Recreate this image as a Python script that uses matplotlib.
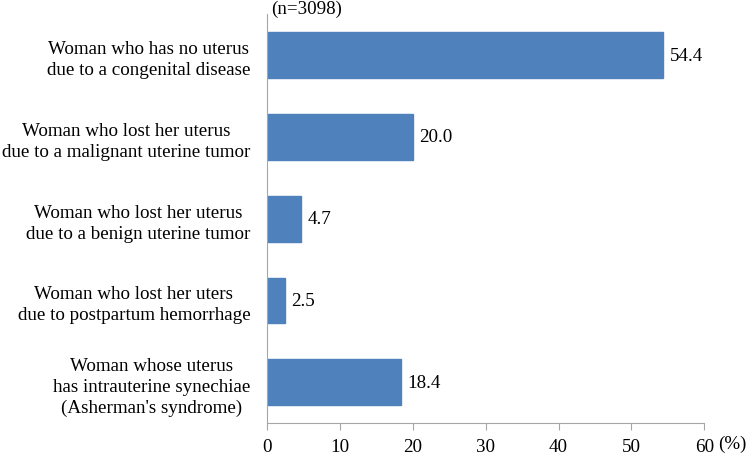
import matplotlib
matplotlib.use("Agg")
import matplotlib.pyplot as plt

# Dados do gráfico
categorias = [
    "Woman who has no uterus\ndue to a congenital disease",
    "Woman who lost her uterus\ndue to a malignant uterine tumor",
    "Woman who lost her uterus\ndue to a benign uterine tumor",
    "Woman who lost her uters\ndue to postpartum hemorrhage",
    "Woman whose uterus\nhas intrauterine synechiae\n(Asherman's syndrome)",
]
valores = [54.4, 20.0, 4.7, 2.5, 18.4]
ticks_x = [0, 10, 20, 30, 40, 50, 60]

plt.rcParams['font.family'] = ['Liberation Serif', 'DejaVu Serif']
fs = 13.7

fig = plt.figure(figsize=(7.5, 4.6), dpi=100)
ax = fig.add_axes([0.356, 0.078, 0.583, 0.889])

pos = list(range(len(categorias)))
ax.barh(pos, valores, height=0.56, color='#4F81BD', edgecolor='#4F81BD')
ax.set_ylim(len(categorias) - 0.5, -0.5)
ax.set_xlim(0, 60)
ax.set_xticks(ticks_x)
ax.set_xticklabels([str(t) for t in ticks_x], fontsize=fs)
ax.set_yticks(pos)
ax.set_yticklabels(categorias, fontsize=fs, linespacing=1.3, ha='right',
                   multialignment='center')
ax.tick_params(axis='y', length=0, pad=12)
ax.tick_params(axis='x', length=5, color='#A6A6A6', pad=6)

for s in ['top', 'right']:
    ax.spines[s].set_visible(False)
for s in ['left', 'bottom']:
    ax.spines[s].set_color('#A6A6A6')

# Rótulos de valor
for i, v in enumerate(valores):
    ax.annotate(f'{v:.1f}', (v, i), textcoords='offset points', xytext=(4.5, 0),
                ha='left', va='center', fontsize=fs)

fig.text(0.362, 0.998, '(n=3098)', ha='left', va='top', fontsize=fs)
fig.text(0.958, 0.035, '(%)', ha='left', va='center', fontsize=fs)

fig.savefig('out.png', dpi=100, facecolor='white')
